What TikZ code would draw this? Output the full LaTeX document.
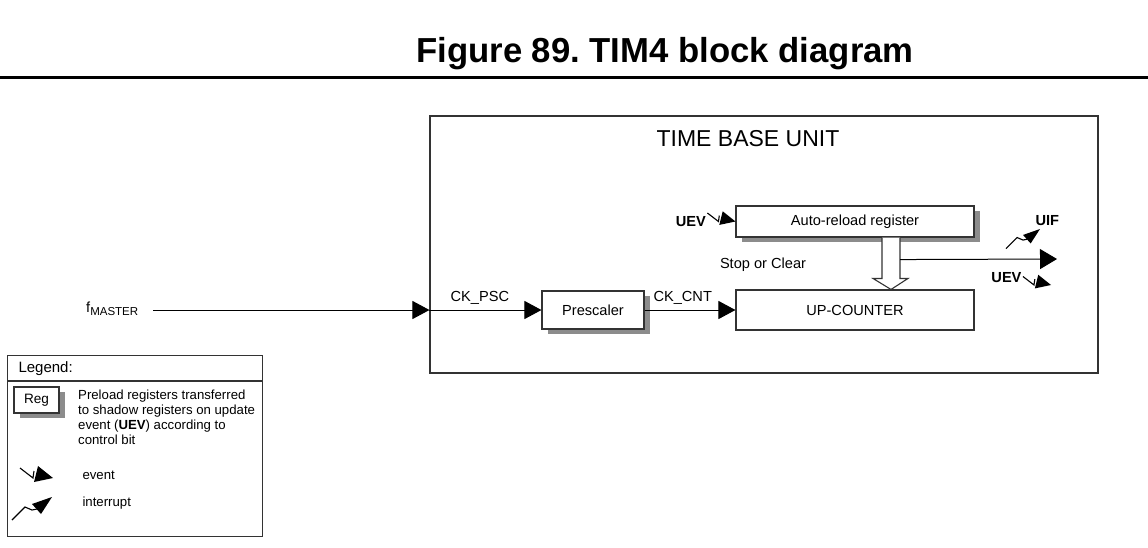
\documentclass[tikz,border=0pt]{standalone}
\usepackage{fontspec}
\setmainfont{Liberation Sans}
\usetikzlibrary{arrows.meta,positioning,calc,shadows}
\definecolor{frame}{HTML}{333333}
\definecolor{shade}{HTML}{8C8C8C}

\begin{document}
\frenchspacing
\begin{tikzpicture}[
  x=1pt, y=-1pt, font=\fontsize{14.6}{17}\selectfont,
  box/.style={draw=frame,fill=white,line width=1.1pt,inner sep=0pt,align=center},
  reg/.style={box,drop shadow={shadow xshift=6pt,shadow yshift=-5pt,fill=shade,opacity=1}},
  hol/.style={draw=frame,fill=white,line width=1.1pt},
  ar/.style={-{Triangle[length=17pt,width=18pt]},line width=1pt},
  bold/.style={font=\fontsize{14.6}{17}\selectfont\bfseries},
  lgf/.style={font=\fontsize{13.2}{15}\selectfont},
  evtsym/.pic={\draw[line width=1.1pt] (-33,-10) -- (-20,0) -- (-19,-7);
    \fill (0,0) -- (-15,-12) -- (-19,4) -- cycle;},
  intsym/.pic={\draw[line width=1.1pt] (-40,23) -- (-27,10) -- (-20,13) -- (-15,12);
    \fill (0,0) -- (-20,7) -- (-11,17) -- cycle;}
]
\useasboundingbox (0,0) rectangle (1148,547);
% title and rule
\node[font=\fontsize{34.7}{40}\selectfont\bfseries,anchor=base] (title) at (665,62) {Figure 89. TIM4 block diagram};
\draw[line width=3pt] (0,77) -- (1148,77);

% time base unit
\node[box,minimum width=668pt,minimum height=257pt] (tbu) at (764,244.5) {};
\node[font=\fontsize{23}{26}\selectfont] (tbut) at (748,139) {TIME BASE UNIT};
\node[reg,minimum width=238pt,minimum height=31pt] (arr) at (855,221.5) {Auto-reload register};
\node[box,minimum width=238pt,minimum height=40pt] (upc) at (855,310) {UP-COUNTER};
\node[reg,minimum width=102pt,minimum height=38pt] (psc) at (593,310) {Prescaler};
\node (soc) at (763,265) {Stop or Clear};

% clock path
\node[anchor=base west,inner sep=0pt] (fm) at (86,312) {f\raisebox{-3pt}{\fontsize{11.5}{13}\selectfont MASTER}};
\draw[ar] ($(fm.east |- psc)+(15,0)$) -- (psc -| tbu.west);
\draw[ar] (psc -| tbu.west) -- node[above=2pt,pos=0.45] (ckpsc) {CK\_PSC} (psc.west);
\draw[ar] (psc.east) -- node[above=2pt,pos=0.42] (ckcnt) {CK\_CNT} (upc.west);

% preload transfer
\draw[hol] ($(arr.south)+(27,0)$) -- ($(upc.north)+(27,-11)$) -- ($(upc.north)+(18,-11)$) -- ($(upc.north)+(36,0)$)
  -- ($(upc.north)+(53,-11)$) -- ($(upc.north)+(45,-11)$) -- ($(arr.south)+(45,0)$);

% outputs
\coordinate (tap) at ($(arr.south)+(45,22)$);
\coordinate (uo) at (1057,259);
\draw[line width=1pt,-{Triangle[length=17pt,width=20pt]}] (tap) -- (uo);
\pic[scale=0.85] at (arr.west) {evtsym};
\node[bold,anchor=east] (uev1) at ($(arr.west)+(-26,0)$) {UEV};
\coordinate (uiftip) at (1040,229);
\pic[scale=0.85] at (uiftip) {intsym};
\node[bold,anchor=west] (uif) at (1032,221) {UIF};
\coordinate (uevtip) at (1051,285);
\pic[scale=0.85] at (uevtip) {evtsym};
\node[bold,anchor=east] (uev2) at (1025,278) {UEV};

% legend
\node[box,minimum width=255pt,minimum height=181pt,anchor=north west] (leg) at (7,355) {};
\node[font=\fontsize{15}{17}\selectfont,anchor=west] (legt) at (15,369) {Legend:};
\draw[frame,line width=1.1pt] ($(leg.north west)+(0,26)$) -- ($(leg.north east)+(0,26)$);
\node[reg,minimum width=45pt,minimum height=26pt,font=\fontsize{13.6}{15}\selectfont] (rg) at (36.5,400) {Reg};
\node[lgf,anchor=north west,align=left,inner sep=0pt] (rgt) at (78,390) {Preload registers transferred\\to shadow registers on update\\event (\textbf{UEV}) according to\\control bit};
\coordinate (evtip) at (53,478);
\pic at (evtip) {evtsym};
\node[lgf,anchor=west] (evt) at (79,475) {event};
\coordinate (irtip) at (52,497);
\pic at (irtip) {intsym};
\node[lgf,anchor=west] (irq) at (79,503) {interrupt};
\end{tikzpicture}
\end{document}
